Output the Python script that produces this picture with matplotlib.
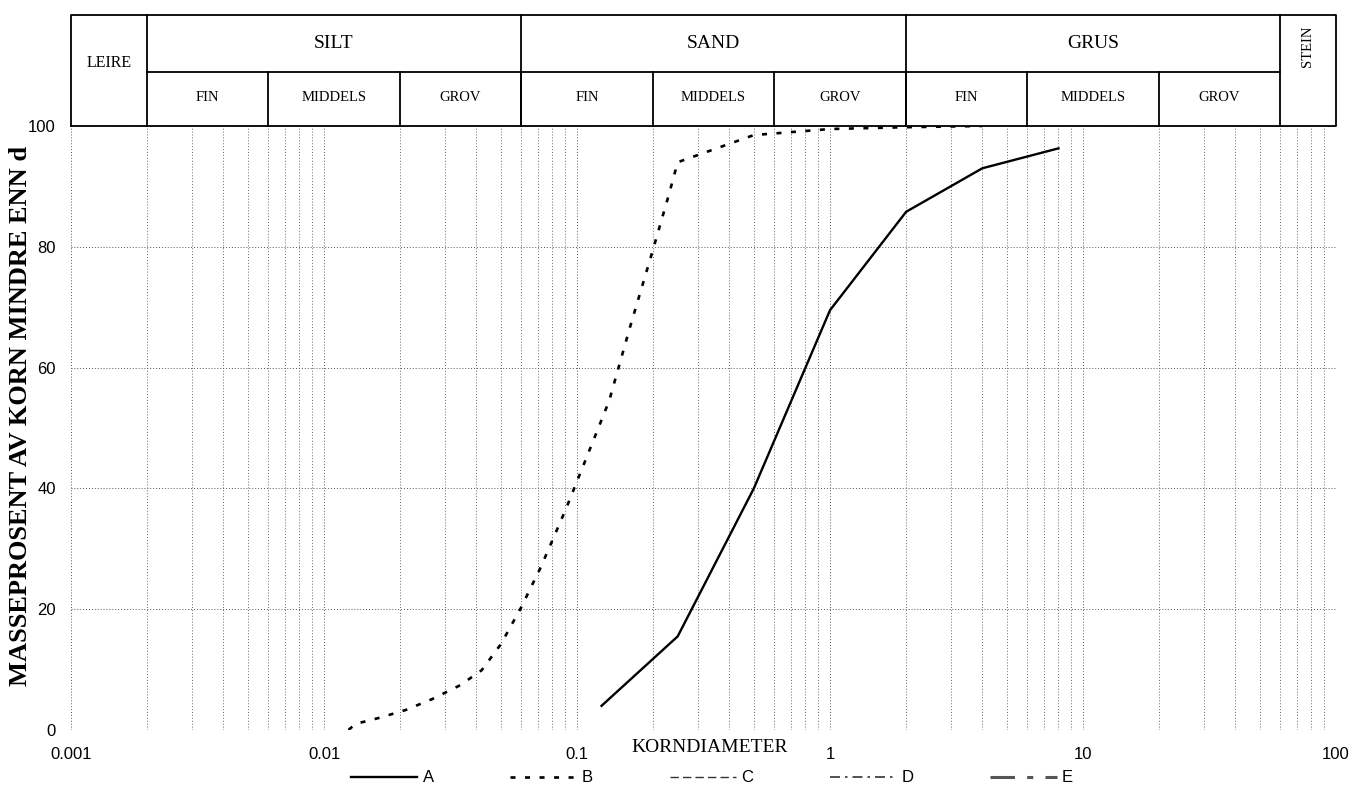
import matplotlib
matplotlib.use("Agg")
import matplotlib.pyplot as plt
import math

# ---------------- data ----------------
A_d = [0.125, 0.25, 0.5, 1, 2, 4, 8]
A_p = [4, 15.5, 40, 69.5, 85.8, 93, 96.3]

B_d = [0.0125, 0.0133, 0.0165, 0.021, 0.0267, 0.0345, 0.042, 0.05, 0.06,
       0.072, 0.09, 0.11, 0.134, 0.162, 0.198, 0.231, 0.25, 0.5, 1, 2, 4]
B_p = [0, 1, 2, 3.3, 5.1, 7.4, 9.9, 14.2, 20.2, 27, 36.4, 45.5, 54.5,
       66.7, 79, 88.7, 94, 98.5, 99.5, 99.8, 100]

C_d, C_p = [], []
D_d, D_p = [], []
E_d, E_p = [], []

x_ticks = [0.001, 0.01, 0.1, 1, 10, 100]
x_tick_labels = ["0.001", "0.01", "0.1", "1", "10", "100"]
y_ticks = [0, 20, 40, 60, 80, 100]

# header classification
main_bounds = [0.001, 0.002, 0.06, 2, 60, 100]
main_names = ["LEIRE", "SILT", "SAND", "GRUS", "STEIN"]
sub_bounds = [0.002, 0.006, 0.02, 0.06, 0.2, 0.6, 2, 6, 20, 60]
sub_names = ["FIN", "MIDDELS", "GROV"] * 3

serif = ["Liberation Serif", "DejaVu Serif"]
sans = ["Liberation Sans", "DejaVu Sans"]

W, H = 1360, 788
fig = plt.figure(figsize=(W / 100, H / 100), dpi=100)

L, R, B0, T0, HT = 71, 1336, 730, 126, 15
ax = fig.add_axes([L / W, 1 - B0 / H, (R - L) / W, (B0 - T0) / H])
axh = fig.add_axes([L / W, 1 - T0 / H, (R - L) / W, (T0 - HT) / H])

# ---------------- main plot ----------------
ax.set_xscale("log")
ax.set_xlim(0.001, 100)
ax.set_ylim(0, 100)
for s in ax.spines.values():
    s.set_visible(False)

ax.plot(A_d, A_p, color="black", lw=1.7, ls="-", label="A")
ax.plot(B_d, B_p, color="black", lw=1.9, ls=(0, (1.9, 3.6)), label="B")
ax.plot(C_d, C_p, color="#333333", lw=1.0, ls=(0, (6, 3)), label="C")
ax.plot(D_d, D_p, color="#333333", lw=1.2, ls=(0, (6, 3, 1.5, 3)), label="D")
ax.plot(E_d, E_p, color="#555555", lw=2.2, ls=(0, (8, 4, 2, 4)), label="E")

ax.set_xticks(x_ticks)
ax.set_xticklabels(x_tick_labels, fontfamily=sans, fontsize=12)
ax.set_yticks(y_ticks)
ax.set_yticklabels([str(v) for v in y_ticks], fontfamily=sans, fontsize=12)
ax.tick_params(axis="both", which="both", length=0)
ax.tick_params(axis="x", pad=12)
ax.tick_params(axis="y", pad=11)

ax.grid(True, which="major", axis="both", ls=(0, (1, 2)), color="#555555", lw=0.7)
ax.grid(True, which="minor", axis="x", ls=(0, (1, 2)), color="#666666", lw=0.7)
ax.set_axisbelow(True)

ax.set_ylabel("MASSEPROSENT AV KORN MINDRE ENN d", fontfamily=serif,
              fontweight="bold", fontsize=19)
ax.yaxis.set_label_coords(-0.031, 0.52)

fig.text(710 / W, 1 - 748 / H, "KORNDIAMETER", fontfamily=serif, fontsize=14,
         ha="center", va="center")

leg = fig.legend(loc="center", bbox_to_anchor=(712 / W, 1 - 778 / H), ncol=5,
                 frameon=False, handlelength=4.0, handletextpad=0.3,
                 columnspacing=4.6, prop={"family": sans, "size": 12})

# ---------------- header ----------------
axh.set_xscale("log")
axh.set_xlim(0.001, 100)
axh.set_ylim(0, 1)
axh.axis("off")
mid = (T0 - 72) / (T0 - HT)
lk = dict(color="black", lw=1.3, clip_on=False)
axh.plot([0.001, 100, 100, 0.001, 0.001], [0, 0, 1, 1, 0], **lk)
for b in main_bounds[1:-1]:
    axh.plot([b, b], [0, 1], **lk)
axh.plot([0.002, 60], [mid, mid], **lk)
for b in sub_bounds[1:-1]:
    axh.plot([b, b], [0, mid], **lk)


def gmid(a, b):
    return math.sqrt(a * b)


for i, name in enumerate(main_names):
    a, b = main_bounds[i], main_bounds[i + 1]
    if name == "LEIRE":
        axh.text(gmid(a, 0.002), 0.57, name, fontfamily=serif, fontsize=11.5,
                 ha="center", va="center")
    elif name == "STEIN":
        axh.text(gmid(60, 100), 0.72, name, fontfamily=serif, fontsize=10.5,
                 rotation=90, ha="center", va="center")
    else:
        axh.text(gmid(a, b), 0.74, name, fontfamily=serif, fontsize=14,
                 ha="center", va="center")

for i, name in enumerate(sub_names):
    a, b = sub_bounds[i], sub_bounds[i + 1]
    axh.text(gmid(a, b), 0.26, name, fontfamily=serif, fontsize=10.5,
             ha="center", va="center")

fig.savefig("out.png", dpi=100)
